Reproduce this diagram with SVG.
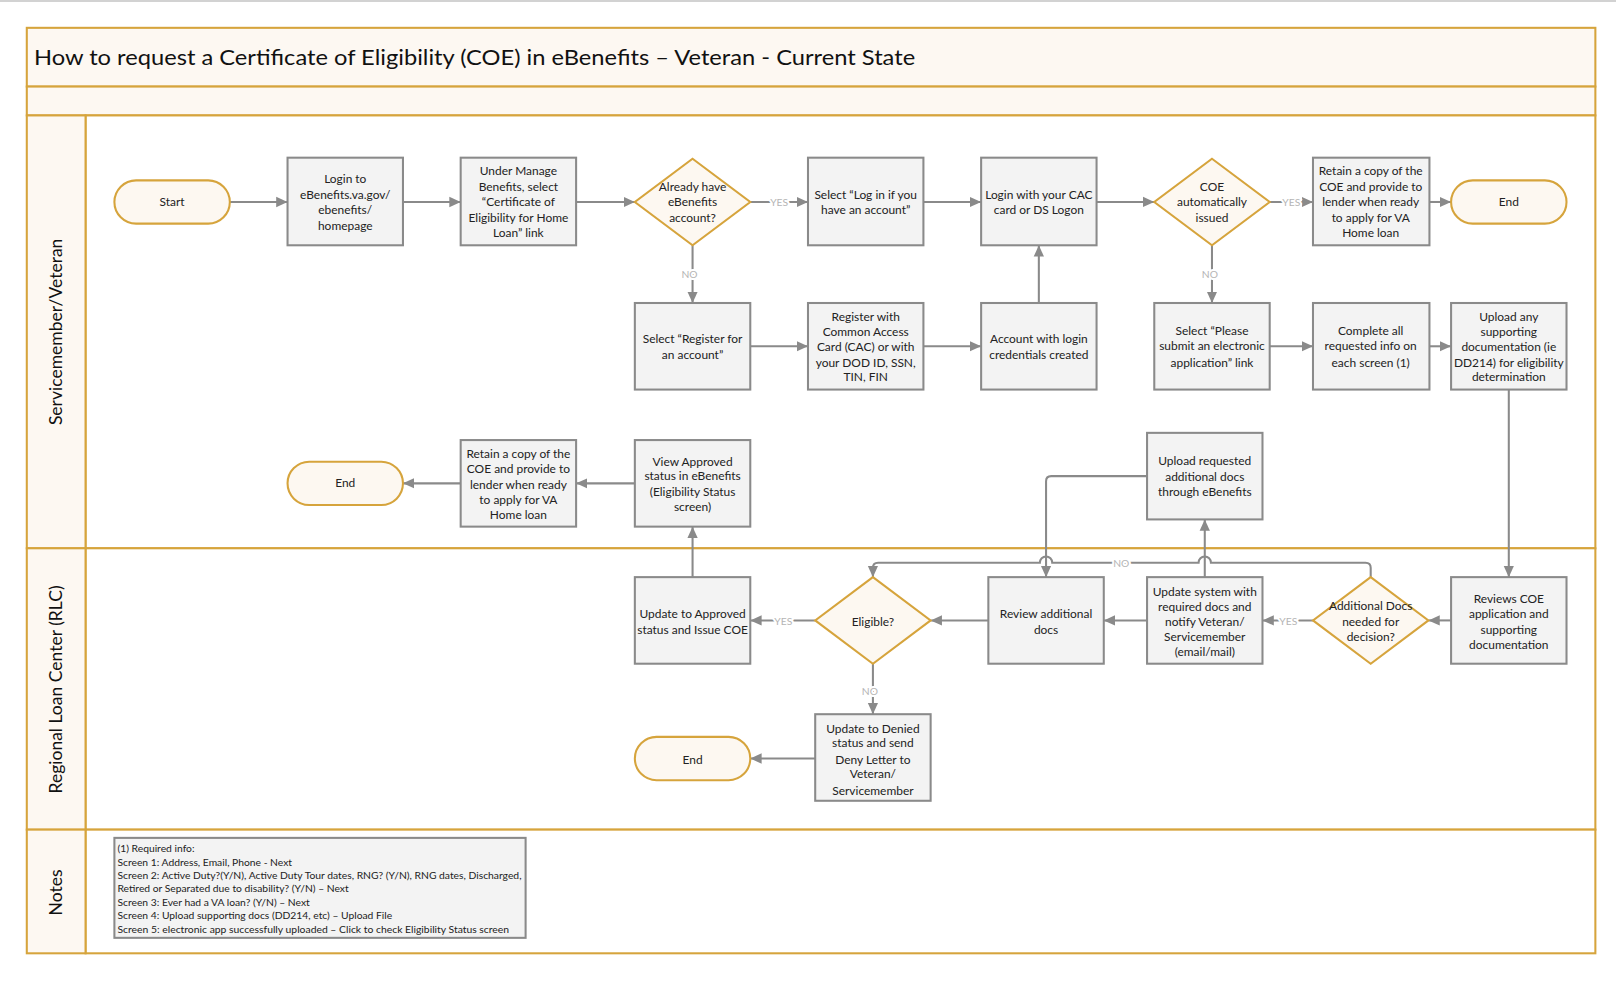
<svg xmlns="http://www.w3.org/2000/svg" width="1616" height="981" viewBox="0 0 1616 981">
<style>
.lane{fill:#fdf8f2;stroke:#d6a43c;stroke-width:2}
.body{fill:#ffffff;stroke:#d6a43c;stroke-width:2}
.box{fill:#f3f3f3;stroke:#8a8a8a;stroke-width:2}
.term{fill:#fdf8f1;stroke:#d6a43c;stroke-width:2}
.dec{fill:#fdf8f1;stroke:#d6a43c;stroke-width:2}
.t{font-family:Lato,"Liberation Sans",sans-serif;font-size:11.6px;fill:#222;text-anchor:middle}
.title{font-family:Lato,"Liberation Sans",sans-serif;font-size:21px;fill:#111}
.ln{font-family:Lato,"Liberation Sans",sans-serif;font-size:17px;fill:#111;text-anchor:middle}
.note{font-family:Lato,"Liberation Sans",sans-serif;font-size:10px;fill:#222}
.c{fill:none;stroke:#8a8a8a;stroke-width:2}
.lb{font-family:Lato,"Liberation Sans",sans-serif;font-size:10px;fill:#b5b5b5;text-anchor:middle;paint-order:stroke;stroke:#fff;stroke-width:4}
</style>
<defs>
<marker id="ah" markerUnits="userSpaceOnUse" markerWidth="12" markerHeight="12" viewBox="0 0 12 12" refX="11" refY="6" orient="auto">
<path d="M0,1 L11,6 L0,11 Z" fill="#8a8a8a"/>
</marker>
</defs>
<rect x="0" y="0" width="1616" height="981" fill="#ffffff"/>
<line x1="0" y1="1" x2="1616" y2="1" stroke="#d2d2d2" stroke-width="2"/>
<g transform="scale(1.0306)">
<g id="frame">
<rect class="lane" x="26" y="27" width="1522" height="57"/>
<text class="title" x="33" y="63" textLength="855" lengthAdjust="spacingAndGlyphs">How to request a Certificate of Eligibility (COE) in eBenefits – Veteran - Current State</text>
<rect class="lane" x="26" y="84" width="1522" height="28"/>
<rect class="body" x="83" y="112" width="1465" height="420"/>
<rect class="body" x="83" y="532" width="1465" height="273"/>
<rect class="body" x="83" y="805" width="1465" height="120"/>
<rect class="lane" x="26" y="112" width="57" height="420"/>
<rect class="lane" x="26" y="532" width="57" height="273"/>
<rect class="lane" x="26" y="805" width="57" height="120"/>
<text class="ln" transform="translate(60,322) rotate(-90)">Servicemember/Veteran</text>
<text class="ln" transform="translate(60,669) rotate(-90)">Regional Loan Center (RLC)</text>
<text class="ln" transform="translate(60,866) rotate(-90)">Notes</text>
</g>

<g id="connectors">
<path class="c" d="M223,196 H279" marker-end="url(#ah)"/>
<path class="c" d="M391,196 H447" marker-end="url(#ah)"/>
<path class="c" d="M559,196 H616" marker-end="url(#ah)"/>
<path class="c" d="M728,196 H784" marker-end="url(#ah)"/>
<path class="c" d="M896,196 H952" marker-end="url(#ah)"/>
<path class="c" d="M1064,196 H1120" marker-end="url(#ah)"/>
<path class="c" d="M1232,196 H1274" marker-end="url(#ah)"/>
<path class="c" d="M1387,196 H1408" marker-end="url(#ah)"/>
<path class="c" d="M672,238 V294" marker-end="url(#ah)"/>
<path class="c" d="M728,336 H784" marker-end="url(#ah)"/>
<path class="c" d="M896,336 H952" marker-end="url(#ah)"/>
<path class="c" d="M1008,294 V238" marker-end="url(#ah)"/>
<path class="c" d="M1176,238 V294" marker-end="url(#ah)"/>
<path class="c" d="M1232,336 H1274" marker-end="url(#ah)"/>
<path class="c" d="M1387,336 H1408" marker-end="url(#ah)"/>
<path class="c" d="M1464,378 V560" marker-end="url(#ah)"/>
<path class="c" d="M1408,602 H1386" marker-end="url(#ah)"/>
<path class="c" d="M1274,602 H1225" marker-end="url(#ah)"/>
<path class="c" d="M1113,602 H1071" marker-end="url(#ah)"/>
<path class="c" d="M959,602 H903" marker-end="url(#ah)"/>
<path class="c" d="M791,602 H728" marker-end="url(#ah)"/>
<path class="c" d="M847,644 V693" marker-end="url(#ah)"/>
<path class="c" d="M791,736 H728" marker-end="url(#ah)"/>
<path class="c" d="M672,560 V511" marker-end="url(#ah)"/>
<path class="c" d="M616,469 H559" marker-end="url(#ah)"/>
<path class="c" d="M447,469 H391" marker-end="url(#ah)"/>
<path class="c" d="M1169,560 V504" marker-end="url(#ah)"/>
<path class="c" d="M1113,462 H1020 Q1015,462 1015,467 V560" marker-end="url(#ah)"/>
<path class="c" d="M1330,560 V551 Q1330,546 1325,546 H1175 A6,6 0 0 0 1163,546 H1021 A6,6 0 0 0 1009,546 H852 Q847,546 847,551 V560" marker-end="url(#ah)"/>
<text class="lb" x="756" y="200">YES</text>
<text class="lb" x="1253" y="200">YES</text>
<text class="lb" x="669" y="270">NO</text>
<text class="lb" x="1174" y="270">NO</text>
<text class="lb" x="1088" y="550">NO</text>
<text class="lb" x="1250" y="606">YES</text>
<text class="lb" x="760" y="606">YES</text>
<text class="lb" x="844" y="674">NO</text>
</g>

<g id="start"><rect class="term" x="111" y="175" width="112" height="42" rx="21"/><text class="t" x="167" y="200">Start</text></g>
<g id="login"><rect class="box" x="279" y="153" width="112" height="85"/><text class="t" x="335" y="178">Login to<tspan x="335" y="193">eBenefits.va.gov/</tspan><tspan x="335" y="208">ebenefits/</tspan><tspan x="335" y="223">homepage</tspan></text></g>
<g id="manage"><rect class="box" x="447" y="153" width="112" height="85"/><text class="t" x="503" y="170">Under Manage<tspan x="503" y="185">Benefits, select</tspan><tspan x="503" y="200">“Certificate of</tspan><tspan x="503" y="215">Eligibility for Home</tspan><tspan x="503" y="230">Loan” link</tspan></text></g>
<g id="have-account"><polygon class="dec" points="672,154 728,196 672,238 616,196"/><text class="t" x="672" y="185">Already have<tspan x="672" y="200">eBenefits</tspan><tspan x="672" y="215">account?</tspan></text></g>
<g id="select-login"><rect class="box" x="784" y="153" width="112" height="85"/><text class="t" x="840" y="193">Select “Log in if you<tspan x="840" y="208">have an account”</tspan></text></g>
<g id="login-cac"><rect class="box" x="952" y="153" width="112" height="85"/><text class="t" x="1008" y="193">Login with your CAC<tspan x="1008" y="208">card or DS Logon</tspan></text></g>
<g id="coe-auto"><polygon class="dec" points="1176,154 1232,196 1176,238 1120,196"/><text class="t" x="1176" y="185">COE<tspan x="1176" y="200">automatically</tspan><tspan x="1176" y="215">issued</tspan></text></g>
<g id="retain1"><rect class="box" x="1274" y="153" width="113" height="85"/><text class="t" x="1330" y="170">Retain a copy of the<tspan x="1330" y="185">COE and provide to</tspan><tspan x="1330" y="200">lender when ready</tspan><tspan x="1330" y="215">to apply for VA</tspan><tspan x="1330" y="230">Home loan</tspan></text></g>
<g id="end1"><rect class="term" x="1408" y="175" width="112" height="42" rx="21"/><text class="t" x="1464" y="200">End</text></g>

<g id="select-register"><rect class="box" x="616" y="294" width="112" height="84"/><text class="t" x="672" y="333">Select “Register for<tspan x="672" y="348">an account”</tspan></text></g>
<g id="register-cac"><rect class="box" x="784" y="294" width="112" height="84"/><text class="t" x="840" y="311">Register with<tspan x="840" y="326">Common Access</tspan><tspan x="840" y="341">Card (CAC) or with</tspan><tspan x="840" y="356">your DOD ID, SSN,</tspan><tspan x="840" y="370">TIN, FIN</tspan></text></g>
<g id="account-created"><rect class="box" x="952" y="294" width="112" height="84"/><text class="t" x="1008" y="333">Account with login<tspan x="1008" y="348">credentials created</tspan></text></g>
<g id="select-please"><rect class="box" x="1120" y="294" width="112" height="84"/><text class="t" x="1176" y="325">Select “Please<tspan x="1176" y="340">submit an electronic</tspan><tspan x="1176" y="356">application” link</tspan></text></g>
<g id="complete-all"><rect class="box" x="1274" y="294" width="113" height="84"/><text class="t" x="1330" y="325">Complete all<tspan x="1330" y="340">requested info on</tspan><tspan x="1330" y="356">each screen (1)</tspan></text></g>
<g id="upload-any"><rect class="box" x="1408" y="294" width="112" height="84"/><text class="t" x="1464" y="311">Upload any<tspan x="1464" y="326">supporting</tspan><tspan x="1464" y="341">documentation (ie</tspan><tspan x="1464" y="356">DD214) for eligibility</tspan><tspan x="1464" y="370">determination</tspan></text></g>

<g id="end2"><rect class="term" x="279" y="448" width="112" height="42" rx="21"/><text class="t" x="335" y="473">End</text></g>
<g id="retain2"><rect class="box" x="447" y="427" width="112" height="84"/><text class="t" x="503" y="444">Retain a copy of the<tspan x="503" y="459">COE and provide to</tspan><tspan x="503" y="474">lender when ready</tspan><tspan x="503" y="489">to apply for VA</tspan><tspan x="503" y="504">Home loan</tspan></text></g>
<g id="view-approved"><rect class="box" x="616" y="427" width="112" height="84"/><text class="t" x="672" y="452">View Approved<tspan x="672" y="466">status in eBenefits</tspan><tspan x="672" y="481">(Eligibility Status</tspan><tspan x="672" y="496">screen)</tspan></text></g>
<g id="upload-requested"><rect class="box" x="1113" y="420" width="112" height="84"/><text class="t" x="1169" y="451">Upload requested<tspan x="1169" y="467">additional docs</tspan><tspan x="1169" y="481">through eBenefits</tspan></text></g>

<g id="update-approved"><rect class="box" x="616" y="560" width="112" height="84"/><text class="t" x="672" y="600">Update to Approved<tspan x="672" y="615">status and Issue COE</tspan></text></g>
<g id="eligible"><polygon class="dec" points="847,560 903,602 847,644 791,602"/><text class="t" x="847" y="607">Eligible?</text></g>
<g id="review-additional"><rect class="box" x="959" y="560" width="112" height="84"/><text class="t" x="1015" y="600">Review additional<tspan x="1015" y="615">docs</tspan></text></g>
<g id="update-system"><rect class="box" x="1113" y="560" width="112" height="84"/><text class="t" x="1169" y="578">Update system with<tspan x="1169" y="593">required docs and</tspan><tspan x="1169" y="607">notify Veteran/</tspan><tspan x="1169" y="622">Servicemember</tspan><tspan x="1169" y="637">(email/mail)</tspan></text></g>
<g id="additional-docs"><polygon class="dec" points="1330,560 1386,602 1330,644 1274,602"/><text class="t" x="1330" y="592">Additional Docs<tspan x="1330" y="607">needed for</tspan><tspan x="1330" y="622">decision?</tspan></text></g>
<g id="reviews-coe"><rect class="box" x="1408" y="560" width="112" height="84"/><text class="t" x="1464" y="585">Reviews COE<tspan x="1464" y="600">application and</tspan><tspan x="1464" y="615">supporting</tspan><tspan x="1464" y="630">documentation</tspan></text></g>

<g id="end3"><rect class="term" x="616" y="715" width="112" height="42" rx="21"/><text class="t" x="672" y="741">End</text></g>
<g id="update-denied"><rect class="box" x="791" y="693" width="112" height="84"/><text class="t" x="847" y="711">Update to Denied<tspan x="847" y="725">status and send</tspan><tspan x="847" y="741">Deny Letter to</tspan><tspan x="847" y="755">Veteran/</tspan><tspan x="847" y="771">Servicemember</tspan></text></g>

<g id="notes"><rect class="box" x="111" y="813" width="399" height="97"/><text class="note" x="114" y="827">(1) Required info:<tspan x="114" y="840">Screen 1: Address, Email, Phone - Next</tspan><tspan x="114" y="853" textLength="392" lengthAdjust="spacingAndGlyphs">Screen 2: Active Duty?(Y/N), Active Duty Tour dates, RNG? (Y/N), RNG dates, Discharged,</tspan><tspan x="114" y="866">Retired or Separated due to disability? (Y/N) – Next</tspan><tspan x="114" y="879">Screen 3: Ever had a VA loan? (Y/N) – Next</tspan><tspan x="114" y="892">Screen 4: Upload supporting docs (DD214, etc) – Upload File</tspan><tspan x="114" y="905" textLength="380" lengthAdjust="spacingAndGlyphs">Screen 5: electronic app successfully uploaded – Click to check Eligibility Status screen</tspan></text></g>
</g>
</svg>
